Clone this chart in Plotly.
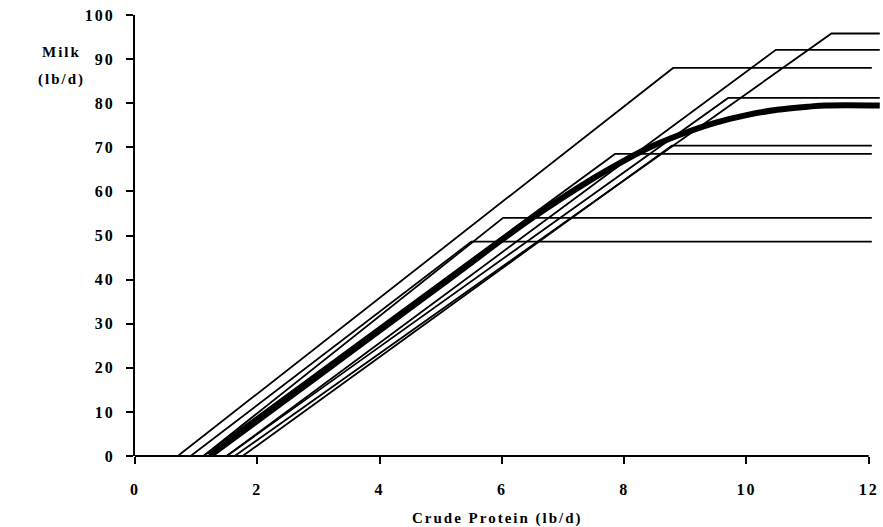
import plotly.graph_objects as go

# Broken-stick response lines: x-intercept (lb CP/d), breakpoint x, plateau milk (lb/d), end x
line_x0 = [0.70, 0.91, 1.12, 1.12, 1.50, 1.50, 1.63, 1.76]
line_xbreak = [8.80, 5.50, 6.02, 7.85, 9.70, 10.48, 11.39, 8.78]
line_plateau = [88.0, 48.6, 54.0, 68.5, 81.2, 92.1, 95.8, 70.4]
line_xend = [12.05, 12.05, 12.05, 12.05, 12.18, 12.18, 12.18, 12.05]

# Thick average response curve
curve_x = [1.22, 3.0, 5.0, 6.5, 7.5, 8.0, 8.5, 9.0, 9.5, 10.0, 10.5, 11.0, 11.3, 12.18]
curve_y = [0.0, 18.2, 38.7, 54.0, 63.0, 67.0, 70.5, 73.3, 75.6, 77.3, 78.5, 79.2, 79.5, 79.5]

x_ticks = [0, 2, 4, 6, 8, 10, 12]
y_ticks = [0, 10, 20, 30, 40, 50, 60, 70, 80, 90, 100]

FONT = "Liberation Serif"

def spaced(s, px=2):
    return '<b><span style="letter-spacing:%spx">%s</span></b>' % (px, s)

fig = go.Figure()
for x0, xb, p, xe in zip(line_x0, line_xbreak, line_plateau, line_xend):
    fig.add_trace(go.Scatter(x=[x0, xb, xe], y=[0, p, p], mode="lines",
                             line=dict(color="black", width=1.8), showlegend=False,
                             hoverinfo="skip"))
fig.add_trace(go.Scatter(x=curve_x, y=curve_y, mode="lines", line_shape="spline",
                         line=dict(color="black", width=6), showlegend=False,
                         hoverinfo="skip"))

fig.update_layout(
    width=883, height=527,
    margin=dict(l=135, r=2, t=15, b=71, autoexpand=False),
    plot_bgcolor="white", paper_bgcolor="white",
    font=dict(family=FONT, color="black", size=15),
    xaxis=dict(range=[0, 12.2], tickvals=x_ticks, ticktext=[spaced(str(v)) for v in x_ticks],
               showgrid=False, zeroline=False, showline=False, automargin=False,
               ticks="outside", ticklen=7, tickwidth=2, tickcolor="black",
               ticklabelstandoff=12,
               tickfont=dict(family=FONT, size=16), fixedrange=True),
    yaxis=dict(range=[0, 100], tickvals=y_ticks, ticktext=[spaced(str(v)) for v in y_ticks],
               showgrid=False, zeroline=False, showline=True, linecolor="black", linewidth=2,
               automargin=False,
               ticks="outside", ticklen=7, tickwidth=2, tickcolor="black",
               ticklabelstandoff=8,
               tickfont=dict(family=FONT, size=16), fixedrange=True),
    shapes=[dict(type="line", xref="x", yref="paper", x0=0, x1=12, y0=0, y1=0,
                 line=dict(color="black", width=2))],
    annotations=[
        dict(text=spaced("Crude Protein (lb/d)"), xref="x", yref="paper", x=5.93, y=0,
             yshift=-62, showarrow=False, xanchor="center", yanchor="middle",
             font=dict(family=FONT, size=15)),
        dict(text=spaced("Milk"), xref="paper", yref="paper", x=-0.098, y=0.916,
             showarrow=False, xanchor="center", yanchor="middle",
             font=dict(family=FONT, size=15)),
        dict(text=spaced("(lb/d)"), xref="paper", yref="paper", x=-0.098, y=0.853,
             showarrow=False, xanchor="center", yanchor="middle",
             font=dict(family=FONT, size=15)),
    ],
)
fig.write_html("out.html", config={"displayModeBar": False},
               post_script="document.body.style.margin='0px';")
